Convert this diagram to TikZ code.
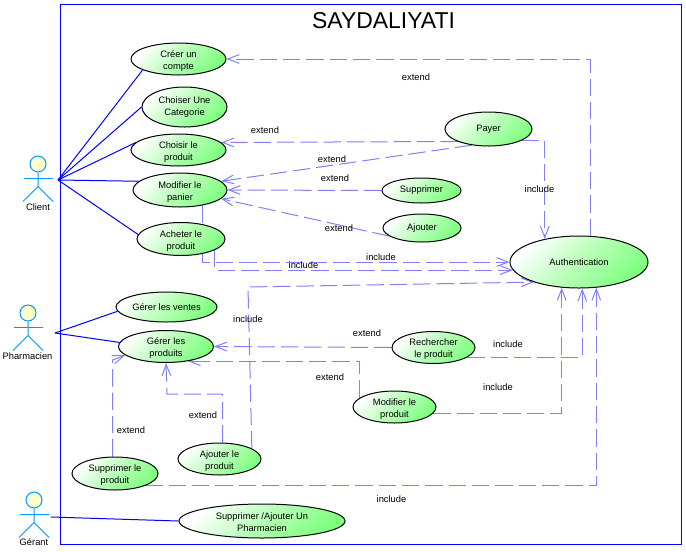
\documentclass[tikz,border=0pt]{standalone}
\usepackage{fontspec}
\setmainfont{Liberation Sans}
\usetikzlibrary{arrows.meta, shapes.geometric, backgrounds}

\definecolor{framecol}{HTML}{0000FF}
\definecolor{depcol}{HTML}{8080FF}
\definecolor{actorcol}{HTML}{0099FF}
\definecolor{casecol}{HTML}{80FF80}
\definecolor{casemid}{HTML}{B8FFB8}
\definecolor{headcol}{HTML}{FFFFCC}

\tikzset{
  usecase/.style 2 args={ellipse, draw=black, line width=0.75pt, inner sep=0pt,
    minimum width=#1*0.75pt, minimum height=#2*0.75pt, align=center,
    top color=white, bottom color=casecol, middle color=casemid, shading angle=45,
    font=\fontsize{7}{9}\selectfont},
  lowtext/.style={text height=16pt, text depth=0.6pt},
  lbl/.style={font=\fontsize{7}{9}\selectfont, inner sep=0pt},
  assoc/.style={draw=framecol, line width=0.75pt},
  dep/.style={draw=depcol, line width=0.75pt, dash pattern=on 13pt off 4.5pt, ->,
    >={Straight Barb[length=8.5pt,width=6.5pt]}},
  actorhead/.style={circle, draw=actorcol, fill=headcol, line width=0.75pt,
    minimum size=12pt, inner sep=0pt},
  actorline/.style={draw=actorcol, line width=0.75pt}
}

\begin{document}
\begin{tikzpicture}[x=0.75pt, y=-0.75pt]
  \useasboundingbox (0,0) rectangle (686,551);

  \node[font=\fontsize{17.2}{20}\selectfont, inner sep=0pt] (title) at (383.5,21) {SAYDALIYATI};

  \node[usecase={95}{32}, lowtext] (compte) at (178.5,59) {Créer un\\compte};
  \node[usecase={85}{40}] (categorie) at (184.5,107) {Choiser Une\\Categorie};
  \node[usecase={95}{32}, lowtext] (choisir) at (178.5,150) {Choisir le\\produit};
  \node[usecase={94}{34}, lowtext] (panier) at (180,190) {Modifier le\\panier};
  \node[usecase={88}{33}, lowtext] (acheter) at (181,239) {Acheter le\\produit};
  \node[usecase={87}{34}] (payer) at (488.5,129) {Payer};
  \node[usecase={79}{25}] (supprimer) at (421.5,190.5) {Supprimer};
  \node[usecase={78}{28}] (ajouter) at (422,228) {Ajouter};
  \node[usecase={138}{52}] (auth) at (579,262) {Authentication};
  \node[usecase={101}{30}] (ventes) at (166.5,307) {Gérer les  ventes};
  \node[usecase={95}{32}, lowtext] (gprod) at (166,346.5) {Gérer les\\produits};
  \node[usecase={83}{32}, lowtext] (rech) at (433.5,347.5) {Rechercher\\le produit};
  \node[usecase={83}{32}, lowtext] (mprod) at (394.5,407) {Modifier le\\produit};
  \node[usecase={83}{32}, lowtext] (aprod) at (219.5,459) {Ajouter le\\produit};
  \node[usecase={86}{33}, lowtext] (sprod) at (115,473.5) {Supprimer le\\produit};
  \node[usecase={166}{34}, lowtext] (pharma) at (262,521) {Supprimer /Ajouter Un\\Pharmacien};

  \foreach \nm/\x/\y in {client/38/164, pharmacien/28/313, gerant/34/500} {
    \node[actorhead] (head\nm) at (\x,\y) {};
    \draw[actorline] (head\nm.south) -- ++(0,14) coordinate (hip\nm)
      ++(-15,15) -- (hip\nm) -- ++(15,15);
    \draw[actorline] (\x-14.5,\y+14) -- (\x+14.5,\y+14);
  }
  \node[lbl] (client) at (38,207) {Client};
  \node[lbl] (pharmacien) at (27.5,356) {Pharmacien};
  \node[lbl] (gerant) at (34,542.5) {Gérant};

  \coordinate (hubclient) at (58,180);
  \coordinate (hubpharma) at (55,333);
  \coordinate (hubgerant) at (51,517);
  \coordinate (ajbend) at (167,394);
  \coordinate (incbend) at (248,287);
  \coordinate (supbend) at (112.5,360);

  \begin{scope}[on background layer]
    \draw[assoc] (60.5,4.5) rectangle (681,544);

    \draw[assoc] (hubclient) -- (compte.197);
    \draw[assoc] (hubclient) -- (categorie.west);
    \draw[assoc] (hubclient) -- (choisir.170);
    \draw[assoc] (hubclient) -- (panier.168);
    \draw[assoc] (hubclient) -- (acheter.174);
    \draw[assoc] (hubpharma) -- (ventes.185);
    \draw[assoc] (hubpharma) -- (gprod.175);
    \draw[assoc] (hubgerant) -- (pharma.west);

    \draw[dep] (auth.67) |- (compte.east);
    \draw[dep] (payer.202) -- (choisir.10);
    \draw[dep] (payer.224) -- (panier.12);
    \draw[dep] (supprimer.west) -- (panier.east);
    \draw[dep] (ajouter.194) -- (panier.348);
    \draw[dep] (payer.341) -| (auth.146);
    \draw[dep] (panier.326) |- (auth.west);
    \draw[dep] (acheter.342) |- (auth.187);
    \draw[dep] (rech.west) -- (gprod.east);
    \draw[dep] (mprod.165) |- (gprod.326);
    \draw[dep] (aprod.79) |- (ajbend) -- (gprod.south);
    \draw[dep] (sprod.98) -- (supbend) -- (gprod.192);
    \draw[dep] (aprod.18) -- (incbend) -- (auth.204);
    \draw[dep] (rech.344) -| (auth.277);
    \draw[dep] (mprod.351) -| (auth.236);
    \draw[dep] (sprod.338) -| (auth.304);
  \end{scope}

  \node[lbl] (ext1) at (416,77) {extend};
  \node[lbl] (ext2) at (265,130) {extend};
  \node[lbl] (ext3) at (332,159) {extend};
  \node[lbl] (ext4) at (335,178) {extend};
  \node[lbl] (ext5) at (339,228) {extend};
  \node[lbl] (ext6) at (367,333) {extend};
  \node[lbl] (ext7) at (330,377) {extend};
  \node[lbl] (ext8) at (203,415) {extend};
  \node[lbl] (ext9) at (131,430) {extend};
  \node[lbl] (inc1) at (539.5,189) {include};
  \node[lbl] (inc2) at (381,257) {include};
  \node[lbl] (inc3) at (303.5,265) {include};
  \node[lbl] (inc4) at (248,319) {include};
  \node[lbl] (inc5) at (508,344) {include};
  \node[lbl] (inc6) at (498,387) {include};
  \node[lbl] (inc7) at (391.5,499) {include};
\end{tikzpicture}
\end{document}
